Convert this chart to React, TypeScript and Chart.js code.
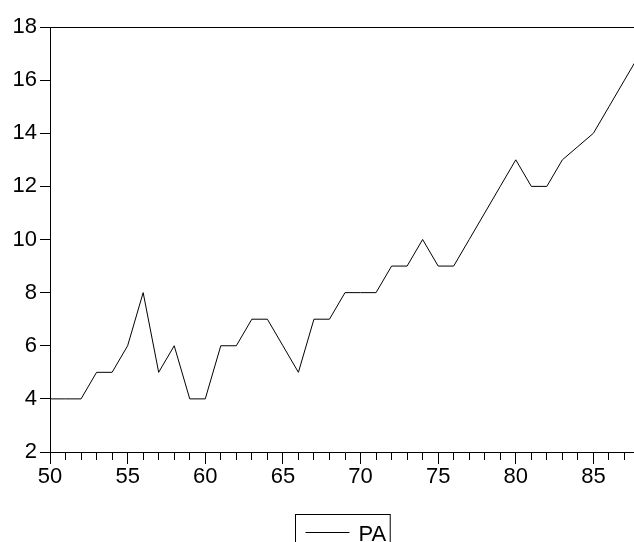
import React, { useEffect, useRef } from 'react';
import { Chart, registerables } from 'chart.js';

Chart.register(...registerables);

const years = [50, 51, 52, 53, 54, 55, 56, 57, 58, 59, 60, 61, 62, 63, 64, 65, 66, 67, 68, 69, 70, 71, 72, 73, 74, 75, 76, 77, 78, 79, 80, 81, 82, 83, 84, 85, 86, 87, 88];
const paValues = [4, 4, 4, 5, 5, 6, 8, 5, 6, 4, 4, 6, 6, 7, 7, 6, 5, 7, 7, 8, 8, 8, 9, 9, 10, 9, 9, 10, 11, 12, 13, 12, 12, 13, 13.5, 14, 15, 16, 17];
const seriesLabel = 'PA';
const xLabelStep = 5;
const yTickValues = [2, 4, 6, 8, 10, 12, 14, 16, 18];

const FONT = "'Liberation Sans', Arial, sans-serif";

const framePlugin = {
  id: 'frameAndLegend',
  afterDraw(chart: any) {
    const { ctx, chartArea } = chart;
    ctx.save();
    ctx.strokeStyle = '#000';
    ctx.lineWidth = 1;
    ctx.beginPath();
    ctx.moveTo(chartArea.left, Math.round(chartArea.top) + 0.5);
    ctx.lineTo(chartArea.right, Math.round(chartArea.top) + 0.5);
    ctx.stroke();

    // legend box
    ctx.font = `22px ${FONT}`;
    const label = chart.data.datasets[0].label;
    const tw = ctx.measureText(label).width;
    const w = 63 + tw + 4;
    const cx = (chartArea.left + chartArea.right) / 2 - 3;
    const left = Math.round(cx - w / 2) + 0.5;
    const top = 514.5;
    ctx.strokeStyle = '#000';
    ctx.lineWidth = 1;
    ctx.strokeRect(left, top, w, 60);
    ctx.beginPath();
    ctx.moveTo(left + 10, 532.5);
    ctx.lineTo(left + 54, 532.5);
    ctx.stroke();
    ctx.fillStyle = '#000';
    ctx.textBaseline = 'alphabetic';
    ctx.textAlign = 'left';
    ctx.fillText(label, left + 63, 540.5);
    ctx.restore();
  },
};

export default function App() {
  const ref = useRef<HTMLCanvasElement>(null);

  useEffect(() => {
    if (!ref.current) return;
    const chart = new Chart(ref.current, {
      type: 'line',
      data: {
        datasets: [
          {
            label: seriesLabel,
            data: years.map((x, i) => ({ x, y: paValues[i] })),
            borderColor: '#000',
            borderWidth: 1,
            pointRadius: 0,
            tension: 0,
            fill: false,
          },
        ],
      },
      options: {
        animation: false,
        responsive: false,
        maintainAspectRatio: false,
        layout: { padding: { top: 27, left: 0, right: 0, bottom: 50 } },
        plugins: {
          legend: { display: false },
          tooltip: { enabled: false },
        },
        scales: {
          x: {
            type: 'linear',
            min: years[0],
            max: years[years.length - 1],
            afterFit: (s: any) => {
              s.height = 40;
            },
            afterBuildTicks: (s: any) => {
              s.ticks = years.map((v) => ({ value: v }));
            },
            ticks: {
              autoSkip: false,
              maxRotation: 0,
              padding: 0,
              color: '#000',
              font: { family: FONT, size: 22 },
              callback: (v: any) => (Number(v) % xLabelStep === 0 ? String(v) : ''),
            },
            grid: {
              drawOnChartArea: false,
              drawTicks: true,
              tickLength: 12,
              tickColor: '#000',
              tickWidth: 1,
              tickBorderDash: (ctx: any) => (ctx.tick && ctx.tick.value % xLabelStep === 0 ? [] : [7, 100]),
            },
            border: { display: true, color: '#000', width: 1 },
          },
          y: {
            type: 'linear',
            min: yTickValues[0],
            max: yTickValues[yTickValues.length - 1],
            afterFit: (s: any) => {
              s.width = 50;
            },
            afterBuildTicks: (s: any) => {
              s.ticks = yTickValues.map((v) => ({ value: v }));
            },
            ticks: {
              padding: 3,
              color: '#000',
              font: { family: FONT, size: 22 },
            },
            grid: {
              drawOnChartArea: false,
              drawTicks: true,
              tickLength: 10,
              tickColor: '#000',
            },
            border: { display: true, color: '#000', width: 1 },
          },
        },
      },
      plugins: [framePlugin],
    });
    return () => chart.destroy();
  }, []);

  return (
    <div style={{ position: 'fixed', left: 0, top: 0, width: 634, height: 542, overflow: 'hidden', background: '#fff' }}>
      <canvas ref={ref} width={640} height={542} style={{ width: 640, height: 542, display: 'block' }} />
    </div>
  );
}
